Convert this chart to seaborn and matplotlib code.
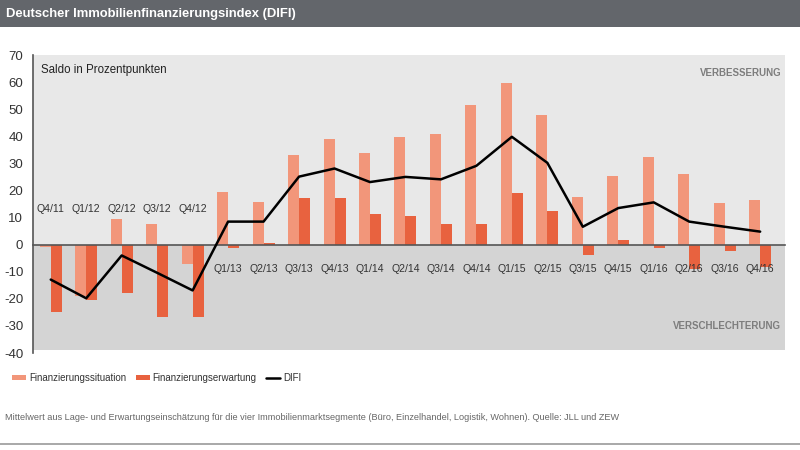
import numpy as np
import pandas as pd
import matplotlib
matplotlib.use("Agg")
import matplotlib.pyplot as plt
import seaborn as sns
from matplotlib.patches import Rectangle
from matplotlib.lines import Line2D

quarters = ["Q4/11", "Q1/12", "Q2/12", "Q3/12", "Q4/12", "Q1/13", "Q2/13", "Q3/13",
            "Q4/13", "Q1/14", "Q2/14", "Q3/14", "Q4/14", "Q1/15", "Q2/15", "Q3/15",
            "Q4/15", "Q1/16", "Q2/16", "Q3/16", "Q4/16"]
situation = [-1, -19, 9.4, 7.5, -7, 19.4, 15.6, 33.1, 38.9, 33.9, 39.9, 40.7, 51.4,
             59.5, 47.9, 17.5, 25.4, 32.2, 26.2, 15.5, 16.5]
erwartung = [-24.7, -20.6, -17.9, -26.6, -26.6, -1.2, 0.5, 17.3, 17.3, 11.4, 10.4,
             7.5, 7.5, 19.1, 12.5, -4.0, 1.6, -1.2, -9.1, -2.2, -8.1]
difi = [-12.9, -19.8, -4.0, -10.4, -16.9, 8.5, 8.5, 25.1, 28.1, 23.1, 25.0, 24.1,
        29.1, 39.8, 30.2, 6.6, 13.5, 15.6, 8.5, 6.6, 4.8]
series_names = ["Finanzierungssituation", "Finanzierungserwartung"]
yticks = list(range(-40, 71, 10))

c_light = "#f2967a"
c_dark = "#e8623f"
txt = "#333333"

sns.set_style("white")
plt.rcParams["font.family"] = ["Liberation Sans", "DejaVu Sans"]
plt.rcParams["axes.unicode_minus"] = False

df = pd.DataFrame({
    "Quartal": quarters * 2,
    "Serie": [series_names[0]] * len(quarters) + [series_names[1]] * len(quarters),
    "Wert": situation + erwartung,
})

fig = plt.figure(figsize=(8, 4.5), dpi=100)
fig.patch.set_facecolor("white")

# title band
fig.patches.append(Rectangle((0, 1 - 27 / 450), 1, 27 / 450, transform=fig.transFigure,
                             facecolor="#63666b", edgecolor="none", zorder=0))
fig.text(6 / 800, 1 - 14 / 450, "Deutscher Immobilienfinanzierungsindex (DIFI)",
         color="white", fontsize=9.4, fontweight="bold", va="center", ha="left")
# bottom rule
fig.lines.append(Line2D([0, 1], [1 - 444 / 450] * 2, transform=fig.transFigure,
                        color="#9a9a9a", lw=1.2))

ax = fig.add_axes([33 / 800, 1 - 353 / 450, 752 / 800, 298 / 450])
ax.set_facecolor("none")

# background zones
ax.axhspan(0, 70, color="#e8e8e8", zorder=0, lw=0)
ax.axhspan(-39, 0, color="#d4d4d4", zorder=0, lw=0)

sns.barplot(data=df, x="Quartal", y="Wert", hue="Serie", order=quarters,
            hue_order=series_names, palette=[c_light, c_dark], width=0.62, gap=0,
            saturation=1, legend=False, ax=ax, zorder=2, linewidth=0)
sns.pointplot(x=quarters, y=difi, order=quarters, color="black", markers="",
              linewidth=1.8, errorbar=None, ax=ax, zorder=4)

ax.set_xlim(-0.5, 20.7)
ax.set_ylim(-40, 70)
ax.set_xlabel("")
ax.set_ylabel("")

ax.spines["top"].set_visible(False)
ax.spines["right"].set_visible(False)
ax.spines["bottom"].set_position(("data", 0))
ax.spines["bottom"].set_color("#555555")
ax.spines["bottom"].set_linewidth(1.2)
ax.spines["bottom"].set_zorder(3)
ax.spines["left"].set_color("#555555")
ax.spines["left"].set_linewidth(1.2)

ax.set_xticks(np.arange(len(quarters)) + 0.5)
ax.set_xticklabels([])
ax.tick_params(axis="x", direction="out", length=4, width=1.2, color="#555555")
ax.set_yticks(yticks)
ax.set_yticklabels([str(v) for v in yticks], fontsize=9.5, color=txt)
ax.tick_params(axis="y", direction="out", length=4, width=1.2, color="#555555", pad=3)

for i, q in enumerate(quarters):
    ypos = 13 if i < 5 else -9
    ax.text(i, ypos, q, ha="center", va="center", fontsize=7.6, color=txt, zorder=5)

ax.text(0.01, 0.97, "Saldo in Prozentpunkten", transform=ax.transAxes, ha="left",
        va="top", fontsize=8.3, color="#222222")
ax.text(0.995, 0.94, "VERBESSERUNG", transform=ax.transAxes, ha="right", va="center",
        fontsize=7, fontweight="bold", color="#7d7d7d")
ax.text(0.995, 0.09, "VERSCHLECHTERUNG", transform=ax.transAxes, ha="right",
        va="center", fontsize=7, fontweight="bold", color="#7d7d7d")

handles = [Rectangle((0, 0), 1, 1, facecolor=c_light, edgecolor="none"),
           Rectangle((0, 0), 1, 1, facecolor=c_dark, edgecolor="none"),
           Line2D([0], [0], color="black", lw=1.8)]
fig.legend(handles, series_names + ["DIFI"], loc="center left",
           bbox_to_anchor=(3 / 800, 1 - 378 / 450), ncol=3, frameon=False,
           fontsize=7, handlelength=1.45, handleheight=0.5, handletextpad=0.3,
           columnspacing=1.0, labelcolor=txt)

fig.text(5 / 800, 1 - 417 / 450,
         "Mittelwert aus Lage- und Erwartungseinschätzung für die vier Immobilienmarktsegmente "
         "(Büro, Einzelhandel, Logistik, Wohnen). Quelle: JLL und ZEW",
         fontsize=6.6, color="#666666", ha="left", va="center")

fig.savefig("out.png", dpi=100)
